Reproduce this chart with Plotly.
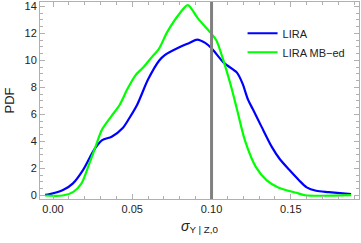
import plotly.graph_objects as go

lira_x = [-0.005, -0.002, 0.0063, 0.0126, 0.019, 0.026, 0.031, 0.037, 0.044, 0.048, 0.053, 0.060, 0.067, 0.0705,
          0.080, 0.086, 0.091, 0.096, 0.100, 0.108, 0.116, 0.1195, 0.123, 0.126, 0.1315, 0.138, 0.143, 0.149,
          0.155, 0.160, 0.166, 0.174, 0.188]
lira_y = [0.04, 0.1, 0.4, 0.9, 1.9, 3.4, 4.1, 4.35, 5.0, 5.7, 6.7, 8.6, 10.0, 10.4,
          11.0, 11.3, 11.55, 11.3, 10.9, 9.8, 9.1, 8.3, 7.1, 6.4, 5.1, 3.6, 2.7, 1.9,
          1.15, 0.6, 0.35, 0.25, 0.1]

mb_x = [-0.005, 0.006, 0.0126, 0.018, 0.023, 0.0265, 0.031, 0.037, 0.042, 0.047, 0.052, 0.057, 0.062,
        0.067, 0.072, 0.080, 0.085, 0.0915, 0.099, 0.103, 0.108, 0.1125, 0.116, 0.121, 0.128, 0.135, 0.142,
        0.1535, 0.159, 0.188]
mb_y = [0.0, 0.0, 0.25, 0.9, 2.4, 3.5, 4.9, 5.9, 6.7, 7.9, 8.9, 9.5, 10.2,
        10.9, 12.1, 13.5, 14.1, 13.1, 12.1, 11.5, 9.8, 8.0, 6.4, 4.1, 2.1, 1.1, 0.6,
        0.2, 0.02, 0.02]

ref_x = 0.10
x_ticks = [0.00, 0.05, 0.10, 0.15]
x_ticklabels = ["0.00", "0.05", "0.10", "0.15"]
y_ticks = [0, 2, 4, 6, 8, 10, 12, 14]

fig = go.Figure()
fig.add_trace(go.Scatter(x=lira_x, y=lira_y, mode="lines", name="LIRA",
                         line=dict(color="#0000ff", width=2.2, shape="spline", smoothing=0.8)))
fig.add_trace(go.Scatter(x=mb_x, y=mb_y, mode="lines", name="LIRA MB\u2212ed",
                         line=dict(color="#00ff00", width=2.2, shape="spline", smoothing=0.8)))
fig.add_shape(type="line", x0=ref_x, x1=ref_x, y0=0, y1=1, xref="x", yref="paper",
              line=dict(color="#808080", width=3))

axis_common = dict(showgrid=False, zeroline=False, showline=True, linecolor="#b0b0b0", linewidth=1,
                   mirror="allticks", ticks="inside", ticklen=5, tickcolor="#b0b0b0", automargin=False,
                   tickfont=dict(family="Liberation Sans, Arial", size=11, color="#222"))
fig.update_xaxes(range=[-0.0082, 0.193], tickvals=x_ticks, ticktext=x_ticklabels,
                 minor=dict(dtick=0.01, ticks="inside", ticklen=3, tickcolor="#b0b0b0"),
                 title=dict(text="<i>σ</i><sub>Y | Z,0</sub>", font=dict(family="Liberation Sans, Arial", size=14, color="#222"), standoff=6),
                 **axis_common)
fig.update_yaxes(range=[-0.26, 14.33], tickvals=y_ticks,
                 minor=dict(dtick=0.5, ticks="inside", ticklen=3, tickcolor="#b0b0b0"),
                 title=dict(text="PDF", font=dict(family="Liberation Sans, Arial", size=13, color="#222"), standoff=6),
                 **axis_common)
fig.update_layout(width=361, height=243, margin=dict(l=40, r=2, t=2, b=44),
                  plot_bgcolor="white", paper_bgcolor="white",
                  legend=dict(x=0.635, y=0.915, xanchor="left", yanchor="top", bgcolor="rgba(0,0,0,0)",
                              font=dict(family="Liberation Sans, Arial", size=11, color="#222"),
                              itemwidth=30, tracegroupgap=0))
fig.write_html("out.html", config={"displayModeBar": False},
               post_script="document.body.style.margin='0';")
